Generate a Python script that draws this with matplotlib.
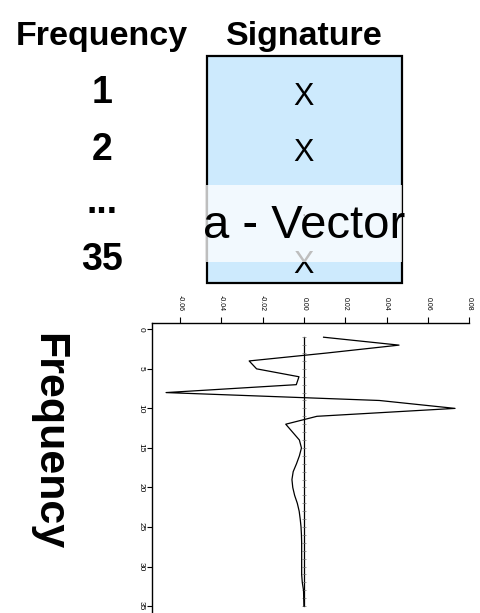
import matplotlib.pyplot as plt
from matplotlib.patches import Rectangle

W, H = 481, 613

# header table
row_labels = ["1", "2", "...", "35"]
row_baselines = [103, 160, 213, 270]
cross_rows = [105, 161, 273]

# signature vector per frequency
freq = list(range(1, 36))
signature = [0.0095, 0.046, 0.011, -0.0265, -0.0229, -0.0024, -0.0037, -0.0667,
             0.0365, 0.0731, 0.0063, -0.0088, -0.0055, -0.0022, -0.0012, -0.0022,
             -0.0036, -0.0052, -0.0058, -0.0054, -0.0045, -0.0032, -0.0023, -0.0018,
             -0.0014, -0.0012, -0.0011, -0.0011, -0.0011, -0.0011, -0.0011, -0.0008,
             -0.0002, -0.0001, 0.0]
baseline = [0.0] * len(freq)
val_ticks = [-0.06, -0.04, -0.02, 0.00, 0.02, 0.04, 0.06, 0.08]
freq_ticks = [0, 5, 10, 15, 20, 25, 30, 35]

SANS = ["Liberation Sans", "DejaVu Sans"]


def fx(px):
    return px / W


def fy(py):
    return 1 - py / H


fig = plt.figure(figsize=(W / 100, H / 100), dpi=100)

# column headers
fig.text(fx(102), fy(45), "Frequency", family=SANS, weight="bold", fontsize=24.5,
         ha="center", va="baseline")
fig.text(fx(304.5), fy(45), "Signature", family=SANS, weight="bold", fontsize=24.5,
         ha="center", va="baseline")
for lab, yb in zip(row_labels, row_baselines):
    fig.text(fx(102), fy(yb), lab, family=SANS, weight="bold", fontsize=27,
             ha="center", va="baseline")

# blue signature box
box = Rectangle((fx(206.7), fy(283.3)), fx(402.3) - fx(206.7), fy(56) - fy(283.3),
                transform=fig.transFigure, facecolor="#cdeafd", edgecolor="black",
                linewidth=1.6, zorder=1)
fig.add_artist(box)
for yb in cross_rows:
    fig.text(fx(304), fy(yb), "X", family=SANS, fontsize=22, ha="center",
             va="baseline", zorder=2)
fig.text(fx(306), fy(216), "..", family=SANS, fontsize=12, ha="center",
         va="baseline", zorder=2)

# translucent band with the caption on top
band = Rectangle((fx(205.7), fy(261.7)), fx(402.3) - fx(205.7), fy(185) - fy(261.7),
                 transform=fig.transFigure, facecolor="white", edgecolor="none",
                 alpha=0.75, zorder=3)
fig.add_artist(band)
fig.text(fx(304.2), fy(238.3), "a - Vector", family=SANS, fontsize=34,
         ha="center", va="baseline", zorder=4)

# rotated frequency label
fig.text(fx(36.7), fy(441.5), "Frequency", family=SANS, weight="bold", fontsize=31,
         rotation=-90, rotation_mode="anchor", ha="center", va="baseline")

# rotated signature plot
ax = fig.add_axes([fx(152), 0, fx(469.3) - fx(152), fy(322.5)])
ax.plot(baseline, freq, color="black", lw=0.9, marker="_", markersize=3,
        markeredgecolor="0.45", markeredgewidth=0.5)
ax.plot(signature, freq, color="black", lw=0.9)
ax.set_xlim(-0.0735, 0.08)
ax.set_ylim(35.87, -0.86)

for side in ["right", "bottom"]:
    ax.spines[side].set_visible(False)
for side in ["top", "left"]:
    ax.spines[side].set_linewidth(1.0)

ax.xaxis.tick_top()
ax.set_xticks(val_ticks)
ax.set_xticklabels([f"{v:.2f}" for v in val_ticks], rotation=-90, fontsize=5,
                   family=SANS)
ax.set_yticks(freq_ticks)
ax.set_yticklabels([str(v) for v in freq_ticks], rotation=-90, fontsize=6,
                   family=SANS, va="center")
ax.tick_params(axis="x", length=4, width=0.8, pad=4.5)
ax.tick_params(axis="y", length=3.5, width=0.8, pad=2)

fig.savefig("out.png", dpi=100)
